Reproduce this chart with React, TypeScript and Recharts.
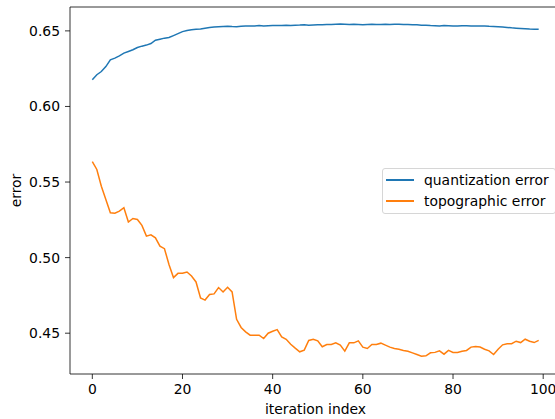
import {
  LineChart,
  Line,
  XAxis,
  YAxis,
  Legend,
  ReferenceArea,
} from "recharts";

const quantizationError = [
  0.6177, 0.621, 0.6231, 0.6264, 0.6309, 0.632, 0.6335, 0.6353, 0.6364, 0.6375,
  0.639, 0.6399, 0.6406, 0.6416, 0.6438, 0.6445, 0.6452, 0.6456, 0.6469, 0.6482,
  0.6495, 0.6502, 0.6507, 0.6511, 0.6513, 0.6518, 0.6522, 0.6525, 0.6527, 0.6529,
  0.6531, 0.6529, 0.6528, 0.653, 0.6532, 0.6533, 0.6533, 0.6535, 0.6533, 0.6534,
  0.6535, 0.6535, 0.6536, 0.6537, 0.6536, 0.6538, 0.6539, 0.6541, 0.6538, 0.6539,
  0.654, 0.6541, 0.6542, 0.6543, 0.6544, 0.6545, 0.6544, 0.6543, 0.6544, 0.6543,
  0.6541, 0.6543, 0.6544, 0.6543, 0.6543, 0.6544, 0.6543, 0.6544, 0.6544, 0.6542,
  0.6542, 0.6541, 0.654, 0.6538, 0.6537, 0.6535, 0.6534, 0.6533, 0.6535, 0.6534,
  0.6533, 0.6533, 0.6534, 0.6534, 0.6533, 0.6533, 0.6532, 0.6532, 0.653, 0.6529,
  0.6527, 0.6525, 0.6523, 0.652, 0.6518, 0.6516, 0.6514, 0.6512, 0.6511, 0.651,
];

const topographicError = [
  0.5635, 0.5583, 0.5472, 0.5384, 0.5297, 0.5294, 0.5307, 0.533, 0.5235, 0.5259,
  0.5252, 0.5213, 0.5142, 0.5151, 0.5131, 0.5076, 0.5059, 0.4955, 0.4868, 0.4896,
  0.4896, 0.4905, 0.4878, 0.4839, 0.4733, 0.4719, 0.4756, 0.476, 0.4802, 0.4773,
  0.4804, 0.4773, 0.4592, 0.4538, 0.4509, 0.4487, 0.4487, 0.4487, 0.4465, 0.45,
  0.4513, 0.4524, 0.4476, 0.446, 0.4427, 0.4401, 0.4377, 0.4388, 0.4452, 0.446,
  0.4449, 0.441, 0.4425, 0.4425, 0.4436, 0.4421, 0.4381, 0.4436, 0.4436, 0.4449,
  0.4408, 0.4399, 0.4425, 0.4425, 0.4434, 0.4421, 0.4408, 0.4399, 0.4394, 0.4386,
  0.4381, 0.437, 0.4359, 0.4348, 0.435, 0.437, 0.4373, 0.4383, 0.4361, 0.4386,
  0.4373, 0.4373, 0.4381, 0.4386, 0.4408, 0.4412, 0.4408, 0.4394, 0.4383, 0.4359,
  0.4394, 0.4423, 0.443, 0.443, 0.4447, 0.4438, 0.446, 0.4447, 0.4438, 0.4452,
];

const xTicks = [0, 20, 40, 60, 80, 100];
const yTicks = [0.45, 0.5, 0.55, 0.6, 0.65];
const xDomain: [number, number] = [-4.95, 103.95];
const yDomain: [number, number] = [0.423, 0.6658];

const BLUE = "#1f77b4";
const ORANGE = "#ff7f0e";
const FONT = "'DejaVu Sans', sans-serif";
const FS = 13.9;

const data = quantizationError.map((q, i) => ({
  iteration: i,
  quantization: q,
  topographic: topographicError[i],
}));

function LegendBox({ payload }: any) {
  return (
    <div
      style={{
        display: "inline-block",
        background: "rgba(255,255,255,0.8)",
        border: "1px solid #d6d6d6",
        borderRadius: 3,
        padding: "1px 6px 2px 3px",
        fontFamily: FONT,
        fontSize: FS,
        color: "#000",
        whiteSpace: "nowrap",
      }}
    >
      {(payload || []).map((p: any) => (
        <div
          key={p.value}
          style={{ display: "flex", alignItems: "center", height: 20.5 }}
        >
          <div
            style={{
              flexShrink: 0,
              width: 28,
              height: 0,
              borderTop: `2px solid ${p.color}`,
              marginRight: 10,
            }}
          />
          <span>{p.value}</span>
        </div>
      ))}
    </div>
  );
}

export default function App() {
  return (
    <div
      style={{
        position: "fixed",
        left: 0,
        top: 0,
        width: 555,
        height: 419,
        overflow: "hidden",
        background: "#fff",
      }}
    >
      <LineChart
        width={575}
        height={419}
        data={data}
        margin={{ top: 7, right: 14, bottom: 0, left: 0 }}
      >
        <XAxis
          dataKey="iteration"
          type="number"
          domain={xDomain}
          ticks={xTicks}
          allowDataOverflow
          height={45}
          axisLine={false}
          tickSize={5}
          tickMargin={5}
          tickLine={{ stroke: "#000", strokeWidth: 0.8 }}
          tick={{ fill: "#000", fontSize: FS, fontFamily: FONT }}
          label={{
            content: ({ viewBox }: any) => (
              <text
                x={viewBox.x + viewBox.width / 2}
                y={viewBox.y + 40}
                textAnchor="middle"
                fontFamily={FONT}
                fontSize={FS}
                fill="#000"
              >
                iteration index
              </text>
            ),
          }}
        />
        <YAxis
          type="number"
          domain={yDomain}
          ticks={yTicks}
          allowDataOverflow
          width={70}
          axisLine={false}
          tickSize={5}
          tickMargin={5}
          tickLine={{ stroke: "#000", strokeWidth: 0.8 }}
          tickFormatter={(v: number) => v.toFixed(2)}
          tick={{ fill: "#000", fontSize: FS, fontFamily: FONT }}
          label={{
            content: ({ viewBox }: any) => {
              const cx = viewBox.x + 21;
              const cy = viewBox.y + viewBox.height / 2;
              return (
                <text
                  x={cx}
                  y={cy}
                  transform={`rotate(-90 ${cx} ${cy})`}
                  textAnchor="middle"
                  fontFamily={FONT}
                  fontSize={FS}
                  fill="#000"
                >
                  error
                </text>
              );
            },
          }}
        />
        <ReferenceArea
          x1={xDomain[0]}
          x2={xDomain[1]}
          y1={yDomain[0]}
          y2={yDomain[1]}
          fill="none"
          fillOpacity={0}
          stroke="#000"
          strokeWidth={0.8}
        />
        <Line
          type="linear"
          dataKey="quantization"
          name="quantization error"
          stroke={BLUE}
          strokeWidth={1.5}
          dot={false}
          isAnimationActive={false}
        />
        <Line
          type="linear"
          dataKey="topographic"
          name="topographic error"
          stroke={ORANGE}
          strokeWidth={1.5}
          dot={false}
          isAnimationActive={false}
        />
        <Legend
          layout="vertical"
          align="center"
          verticalAlign="middle"
          wrapperStyle={{ left: 382, top: 168, width: "auto" }}
          content={LegendBox}
        />
      </LineChart>
    </div>
  );
}
